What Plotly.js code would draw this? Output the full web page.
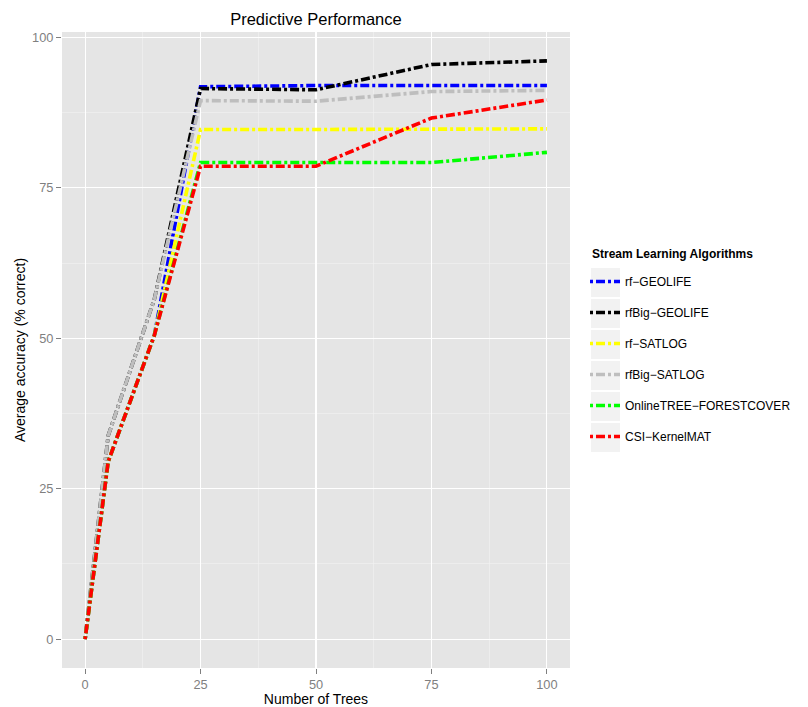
<!DOCTYPE html>
<html>
<head>
<meta charset="utf-8">
<script src="https://cdn.plot.ly/plotly-3.0.1.min.js"></script>
<style>html,body{margin:0;padding:0;background:#fff;}#chart{width:808px;height:707px;}</style>
</head>
<body>
<div id="chart"></div>
<script>
var trees = [0, 5, 15, 25, 50, 75, 100];
var seriesNames = ["rf\u2212GEOLIFE", "rfBig\u2212GEOLIFE", "rf\u2212SATLOG", "rfBig\u2212SATLOG", "OnlineTREE\u2212FORESTCOVER", "CSI\u2212KernelMAT"];
var rfGeolife    = [0, 29.5, 50.5, 91.8, 92.0, 92.0, 92.0];
var rfBigGeolife = [0, 33.8, 56.5, 91.5, 91.3, 95.5, 96.1];
var rfSatlog     = [0, 29.5, 50.5, 84.7, 84.7, 84.8, 84.8];
var rfBigSatlog  = [0, 33.8, 56.5, 89.5, 89.4, 91.0, 91.2];
var onlineTree   = [0, 29.5, 50.5, 79.2, 79.2, 79.2, 80.9];
var csiKernel    = [0, 29.5, 50.5, 78.6, 78.6, 86.6, 89.6];
var xTicks = [0, 25, 50, 75, 100];
var yTicks = [0, 25, 50, 75, 100];
var legendTitle = "Stream Learning Algorithms";

var seriesValues = [rfGeolife, rfBigGeolife, rfSatlog, rfBigSatlog, onlineTree, csiKernel];
var colors = ["#0000FF", "#000000", "#FFFF00", "#BEBEBE", "#00FF00", "#FF0000"];

var traces = seriesNames.map(function (n, i) {
  return {
    x: trees, y: seriesValues[i], name: n, type: "scatter", mode: "lines",
    legendgroup: "g" + i,
    line: {color: colors[i], width: 3.6, dash: "3px,3px,9px,3px"},
    hoverinfo: "skip"
  };
});

// plot-area geometry (pixels) used for legend decoration placement
var PL = 62, PR = 570, PT = 32, PB = 668;
var PW = PR - PL, PH = PB - PT;

// legend key backgrounds (ggplot style)
var keyShapes = [];
for (var k = 0; k < seriesNames.length; k++) {
  var keyTop = 268 + 31 * k, keyBot = keyTop + 29;
  keyShapes.push({type: "rect", xref: "paper", yref: "paper",
    x0: (591 - PL) / PW, x1: (620 - PL) / PW,
    y0: (PB - keyBot) / PH, y1: (PB - keyTop) / PH,
    fillcolor: "#F2F2F2", line: {width: 0}, layer: "below"});
}

var axisCommon = {
  showline: false, zeroline: false, automargin: false,
  gridcolor: "#FFFFFF", gridwidth: 1.1,
  ticks: "outside", ticklen: 5, tickwidth: 1, tickcolor: "#7F7F7F",
  tickfont: {family: "Liberation Sans, Arial, sans-serif", size: 12.8, color: "#7F7F7F"},
  minor: {dtick: 12.5, showgrid: true, gridcolor: "#F2F2F2", gridwidth: 0.6, ticks: ""}
};

var layout = {
  width: 808, height: 707,
  margin: {l: PL, r: 808 - PR, t: PT, b: 707 - PB, pad: 0, autoexpand: false},
  paper_bgcolor: "#FFFFFF", plot_bgcolor: "#E5E5E5",
  font: {family: "Liberation Sans, Arial, sans-serif", color: "#000000"},
  title: {text: "Predictive Performance", x: 0.391, xref: "container", y: 0.973, yref: "container", yanchor: "middle",
    font: {size: 16.5, color: "#000000"}},
  xaxis: Object.assign({}, axisCommon, {
    range: [-5, 105], tickvals: xTicks, ticktext: xTicks.map(String),
    title: {text: "Number of Trees", font: {size: 14}, standoff: 2}
  }),
  yaxis: Object.assign({}, axisCommon, {
    range: [-4.8, 100.9], tickvals: yTicks, ticktext: yTicks.map(String),
    title: {text: "Average accuracy (% correct)", font: {size: 14}, standoff: 3}
  }),
  legend: {
    x: (585 - PL) / PW, xanchor: "left", y: (PB - 267) / PH, yanchor: "top",
    traceorder: "grouped", tracegroupgap: 12,
    bgcolor: "rgba(0,0,0,0)", borderwidth: 0,
    font: {size: 12, color: "#000000"},
    itemwidth: 30
  },
  annotations: [{
    text: "<b>" + legendTitle + "</b>", xref: "paper", yref: "paper",
    x: (590 - PL) / PW, y: (PB - 254) / PH, xanchor: "left", yanchor: "middle",
    showarrow: false, font: {size: 12, color: "#000000"}
  }],
  shapes: keyShapes,
  showlegend: true
};

Plotly.newPlot("chart", traces, layout, {displayModeBar: false, staticPlot: true});
</script>
</body>
</html>
